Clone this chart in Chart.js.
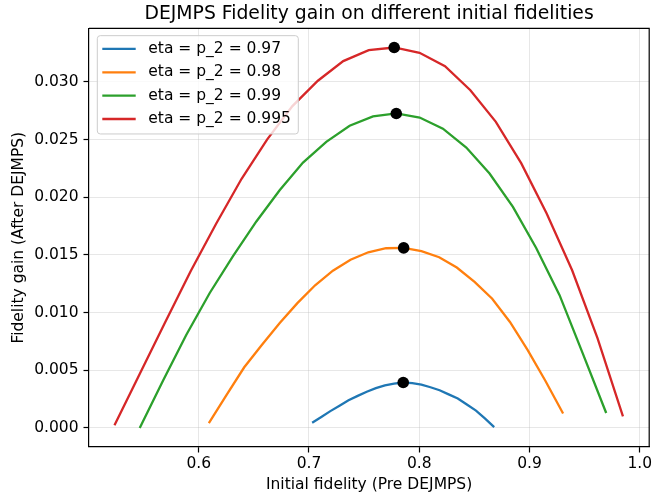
<!DOCTYPE html>
<html lang="en">
<head>
    <meta charset="UTF-8">
    <title>DEJMPS Fidelity gain</title>
    <style>
        html, body {
            margin: 0;
            padding: 0;
            background-color: #ffffff;
        }
    </style>
    <script src="https://cdn.jsdelivr.net/npm/chart.js@4"></script>
</head>
<body>
    <canvas id="gainChart" width="655" height="499"></canvas>

    <script>
        // values
        const seriesLabels = ['eta = p_2 = 0.97', 'eta = p_2 = 0.98', 'eta = p_2 = 0.99', 'eta = p_2 = 0.995'];

        const fid097 = [0.7029, 0.7112, 0.7194, 0.7277, 0.7359, 0.7442, 0.7524, 0.7607, 0.7689, 0.7772, 0.7855,
                        0.7937, 0.8020, 0.8102, 0.8185, 0.8267, 0.8350, 0.8432, 0.8515, 0.8598, 0.8680];
        const gain097 = [0.00045, 0.00095, 0.00146, 0.00193, 0.00240, 0.00278, 0.00314, 0.00345, 0.00370, 0.00385, 0.00394,
                         0.00388, 0.00376, 0.00353, 0.00327, 0.00291, 0.00256, 0.00203, 0.00150, 0.00081, 0.00008];

        const fid098 = [0.6092, 0.6253, 0.6413, 0.6574, 0.6735, 0.6895, 0.7056, 0.7217, 0.7377, 0.7538, 0.7699,
                        0.7859, 0.8020, 0.8181, 0.8341, 0.8502, 0.8662, 0.8823, 0.8984, 0.9144, 0.9305];
        const gain098 = [0.00041, 0.00286, 0.00526, 0.00722, 0.00910, 0.01082, 0.01237, 0.01363, 0.01458, 0.01523, 0.01558,
                         0.01561, 0.01532, 0.01480, 0.01391, 0.01266, 0.01120, 0.00919, 0.00674, 0.00409, 0.00125];

        const fid099 = [0.5465, 0.5677, 0.5888, 0.6100, 0.6311, 0.6523, 0.6734, 0.6946, 0.7157, 0.7369, 0.7581,
                        0.7792, 0.8004, 0.8215, 0.8427, 0.8638, 0.8850, 0.9061, 0.9273, 0.9484, 0.9696];
        const gain099 = [0.00000, 0.00411, 0.00808, 0.01170, 0.01490, 0.01790, 0.02060, 0.02300, 0.02480, 0.02620, 0.02700,
                         0.02726, 0.02691, 0.02594, 0.02431, 0.02206, 0.01916, 0.01560, 0.01151, 0.00645, 0.00130];

        const fid0995 = [0.5236, 0.5467, 0.5697, 0.5928, 0.6158, 0.6389, 0.6620, 0.6850, 0.7081, 0.7311, 0.7542,
                         0.7773, 0.8003, 0.8234, 0.8464, 0.8695, 0.8926, 0.9156, 0.9387, 0.9617, 0.9848];
        const gain0995 = [0.00023, 0.00473, 0.00918, 0.01360, 0.01770, 0.02160, 0.02500, 0.02790, 0.03010, 0.03180, 0.03275,
                          0.03298, 0.03252, 0.03136, 0.02928, 0.02653, 0.02293, 0.01859, 0.01367, 0.00778, 0.00101];

        const xTicks = [0.6, 0.7, 0.8, 0.9, 1.0];
        const yTicks = [0.000, 0.005, 0.010, 0.015, 0.020, 0.025, 0.030];

        const colors = ['#1f77b4', '#ff7f0e', '#2ca02c', '#d62728'];
        const fids = [fid097, fid098, fid099, fid0995];
        const gains = [gain097, gain098, gain099, gain0995];

        const FONT = 'DejaVu Sans';
        const FS = 15.5;

        function toPoints(xs, ys) {
            return xs.map((x, i) => ({ x: x, y: ys[i] }));
        }

        // the black dot sits on the largest gain of each curve
        const peaks = gains.map((ys, s) => {
            const i = ys.indexOf(Math.max(...ys));
            return { x: fids[s][i], y: ys[i] };
        });

        const datasets = seriesLabels.map((label, s) => ({
            label: label,
            data: toPoints(fids[s], gains[s]),
            showLine: true,
            borderColor: colors[s],
            backgroundColor: colors[s],
            borderWidth: 2.3,
            pointRadius: 0,
            tension: 0
        }));
        datasets.push({
            label: 'max',
            data: peaks,
            showLine: false,
            pointRadius: 5.8,
            pointBackgroundColor: '#000000',
            pointBorderWidth: 0,
            order: -1
        });

        // top/right spines and a matplotlib style legend inside the axes
        const frameAndLegend = {
            id: 'frameAndLegend',
            afterDatasetsDraw(chart) {
                const ctx = chart.ctx;
                const a = chart.chartArea;
                ctx.save();
                ctx.strokeStyle = '#000000';
                ctx.lineWidth = 1.2;
                ctx.beginPath();
                ctx.moveTo(a.left, a.top);
                ctx.lineTo(a.right, a.top);
                ctx.lineTo(a.right, a.bottom);
                ctx.stroke();

                const bx = a.left + 8.3, by = a.top + 7.2, bw = 201, bh = 98.3, r = 3;
                ctx.beginPath();
                ctx.moveTo(bx + r, by);
                ctx.arcTo(bx + bw, by, bx + bw, by + bh, r);
                ctx.arcTo(bx + bw, by + bh, bx, by + bh, r);
                ctx.arcTo(bx, by + bh, bx, by, r);
                ctx.arcTo(bx, by, bx + bw, by, r);
                ctx.closePath();
                ctx.fillStyle = 'rgba(255, 255, 255, 0.8)';
                ctx.fill();
                ctx.strokeStyle = '#cccccc';
                ctx.lineWidth = 1;
                ctx.stroke();

                ctx.font = FS + 'px "' + FONT + '"';
                ctx.textBaseline = 'middle';
                ctx.textAlign = 'left';
                seriesLabels.forEach((label, s) => {
                    const y = by + 13.3 + s * 23.35;
                    ctx.strokeStyle = colors[s];
                    ctx.lineWidth = 2.3;
                    ctx.beginPath();
                    ctx.moveTo(a.left + 13.3, y);
                    ctx.lineTo(a.left + 46.7, y);
                    ctx.stroke();
                    ctx.fillStyle = '#000000';
                    ctx.fillText(label, a.left + 59.3, y);
                });
                ctx.restore();
            }
        };

        Chart.defaults.font.family = FONT;
        Chart.defaults.font.size = FS;
        Chart.defaults.color = '#000000';

        const ctx = document.getElementById('gainChart').getContext('2d');
        const gainChart = new Chart(ctx, {
            type: 'scatter',
            data: { datasets: datasets },
            options: {
                responsive: false,
                animation: false,
                layout: { padding: { left: 0, right: 4, top: 0, bottom: 0 } },
                plugins: {
                    legend: { display: false },
                    tooltip: { enabled: false },
                    title: {
                        display: true,
                        text: 'DEJMPS Fidelity gain on different initial fidelities',
                        fullSize: false,
                        font: { size: 18.8, weight: 'normal' },
                        color: '#000000',
                        padding: { top: 2.7, bottom: 3.2 }
                    }
                },
                scales: {
                    x: {
                        type: 'linear',
                        min: 0.5005,
                        max: 1.0086,
                        afterFit: (scale) => { scale.height = 52; },
                        afterBuildTicks: (scale) => { scale.ticks = xTicks.map(v => ({ value: v })); },
                        ticks: {
                            autoSkip: false,
                            maxRotation: 0,
                            padding: 2.5,
                            callback: (v) => v.toFixed(1)
                        },
                        grid: {
                            color: 'rgba(176, 176, 176, 0.3)',
                            lineWidth: 1,
                            tickColor: '#000000',
                            tickLength: 5.5,
                            tickWidth: 1.2
                        },
                        border: { color: '#000000', width: 1.2 },
                        title: {
                            display: true,
                            text: 'Initial fidelity (Pre DEJMPS)',
                            padding: { top: 0, bottom: 4.7 }
                        }
                    },
                    y: {
                        type: 'linear',
                        min: -0.00165,
                        max: 0.03463,
                        afterFit: (scale) => { scale.width = 89; },
                        afterBuildTicks: (scale) => { scale.ticks = yTicks.map(v => ({ value: v })); },
                        ticks: {
                            autoSkip: false,
                            padding: 5,
                            callback: (v) => v.toFixed(3)
                        },
                        grid: {
                            color: 'rgba(176, 176, 176, 0.3)',
                            lineWidth: 1,
                            tickColor: '#000000',
                            tickLength: 5.5,
                            tickWidth: 1.2
                        },
                        border: { color: '#000000', width: 1.2 },
                        title: {
                            display: true,
                            text: 'Fidelity gain (After DEJMPS)',
                            padding: { top: 9.7, bottom: 0 }
                        }
                    }
                }
            },
            plugins: [frameAndLegend]
        });
    </script>
</body>
</html>
